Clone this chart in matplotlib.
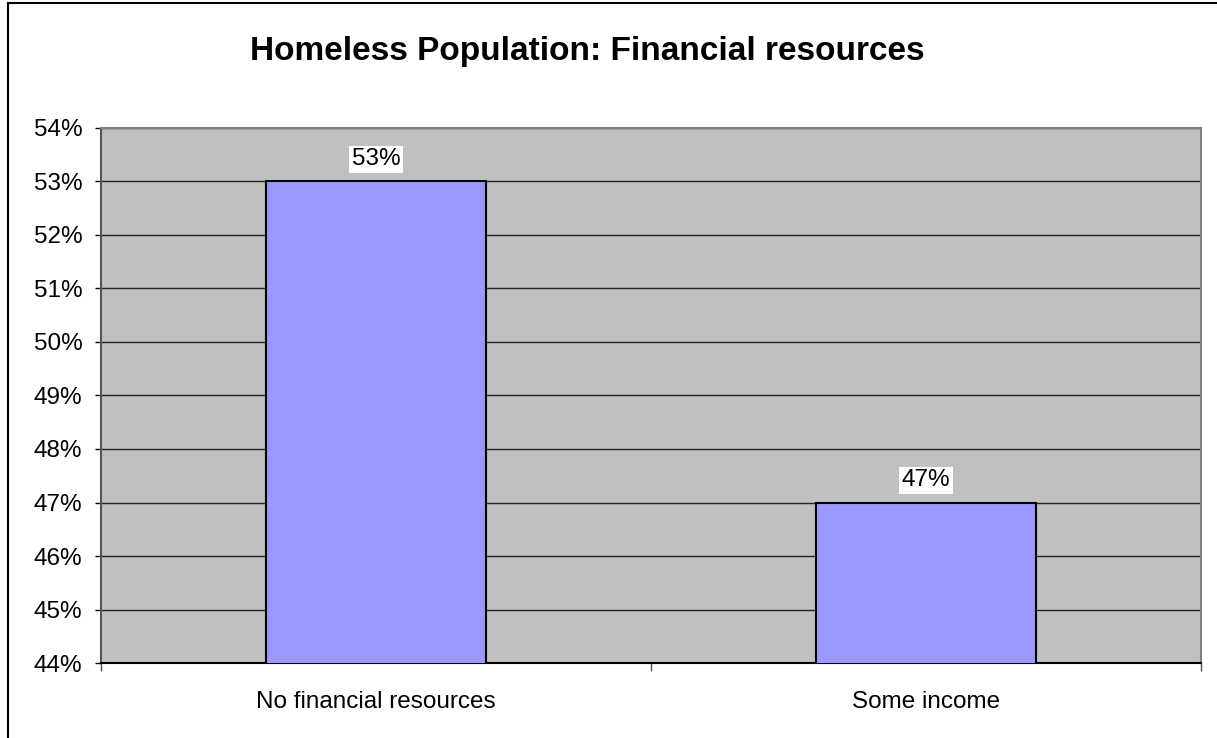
import matplotlib.pyplot as plt
from matplotlib.lines import Line2D
from matplotlib.ticker import PercentFormatter, FixedLocator

plt.rcParams['font.family'] = ['Liberation Sans', 'DejaVu Sans']

categories = ["No financial resources", "Some income"]
shares = [0.53, 0.47]
y_ticks = [0.44, 0.45, 0.46, 0.47, 0.48, 0.49, 0.50, 0.51, 0.52, 0.53, 0.54]

fig = plt.figure(figsize=(12.17, 7.38), dpi=100)
ax = fig.add_axes([0.083, 0.1016, 0.9037, 0.725])

ax.set_facecolor('#C0C0C0')
x = range(len(categories))
bars = ax.bar(x, shares, width=0.4, color='#9999FF', edgecolor='black', linewidth=1.5, zorder=3)

ax.set_xlim(-0.5, len(categories) - 0.5)
ax.set_ylim(y_ticks[0], y_ticks[-1])
ax.set_yticks(y_ticks)
ax.yaxis.set_major_formatter(PercentFormatter(1.0, decimals=0))
ax.grid(axis='y', color='#222222', linewidth=1, zorder=1)
ax.set_axisbelow(True)

# categories sit between tick marks placed on the boundaries
ax.set_xticks(list(x))
ax.set_xticklabels(categories)
ax.xaxis.set_minor_locator(FixedLocator([i - 0.5 for i in range(len(categories) + 1)]))
ax.tick_params(axis='x', which='major', length=0, pad=20, labelsize=17.5)
ax.tick_params(axis='x', which='minor', length=6, width=1, color='#555555')
ax.tick_params(axis='y', length=4.5, width=1, pad=9, labelsize=17.5)

for name, sp in ax.spines.items():
    sp.set_color('#808080')
    sp.set_linewidth(1.5)
ax.spines['bottom'].set_color('black')
ax.spines['left'].set_color('#555555')

for b, v in zip(bars, shares):
    ax.annotate(f"{v:.0%}", (b.get_x() + b.get_width() / 2, v), xytext=(0, 16),
                textcoords='offset points', ha='center', va='center', fontsize=17.5,
                bbox=dict(boxstyle='square,pad=0.1', fc='white', ec='none'), zorder=4)

fig.suptitle("Homeless Population: Financial resources", x=0.483, y=0.93,
             va='center', fontsize=24, fontweight='bold')

# chart frame
fig.add_artist(Line2D([8 / 1217, 8 / 1217], [0, 1 - 3 / 738], color='black', linewidth=1.5))
fig.add_artist(Line2D([8 / 1217, 1], [1 - 3 / 738, 1 - 3 / 738], color='black', linewidth=1.5))

fig.savefig('out.png', dpi=100)
